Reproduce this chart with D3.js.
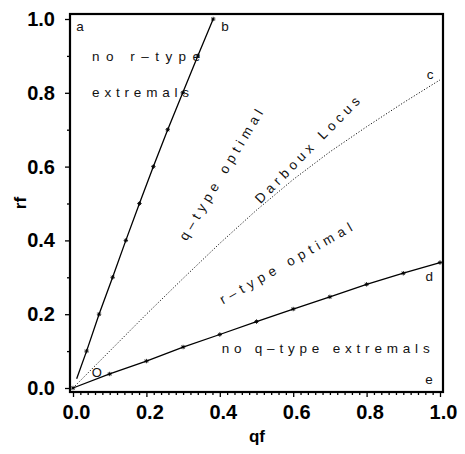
<!DOCTYPE html>
<html><head><meta charset="utf-8">
<script src="https://cdn.jsdelivr.net/npm/d3@7"></script>
<style>
html,body{margin:0;padding:0;background:#fff;}
svg{display:block;}
</style></head>
<body>
<svg id="chart" width="465" height="454"></svg>
<script>
// ---- data ----
const xTicks = [0, 0.2, 0.4, 0.6, 0.8, 1.0];
const yTicks = [0, 0.2, 0.4, 0.6, 0.8, 1.0];
const xTickLabels = ["0.0", "0.2", "0.4", "0.6", "0.8", "1.0"];
const yTickLabels = ["0.0", "0.2", "0.4", "0.6", "0.8", "1.0"];

// q-type boundary (O-b)
const qTypeQ = [0.010, 0.037, 0.071, 0.108, 0.144, 0.181, 0.219, 0.258, 0.299, 0.340, 0.382];
const qTypeR = [0.025, 0.1, 0.2, 0.3, 0.4, 0.5, 0.6, 0.7, 0.8, 0.9, 1.0];
// r-type boundary (O-d)
const rTypeQ = [0, 0.1, 0.2, 0.3, 0.4, 0.5, 0.6, 0.7, 0.8, 0.9, 1.0];
const rTypeR = [0, 0.038, 0.073, 0.111, 0.145, 0.180, 0.214, 0.247, 0.281, 0.311, 0.340];
// Darboux locus (O-c)
const darbQ = [0, 0.1, 0.2, 0.3, 0.4, 0.5, 0.6, 0.7, 0.8, 0.9, 1.0];
const darbR = [0, 0.1, 0.2, 0.297, 0.392, 0.482, 0.565, 0.640, 0.708, 0.773, 0.835];

// ---- layout ----
const svg = d3.select("#chart");
const x = d3.scaleLinear().domain([0, 1]).range([73, 440]);
const y = d3.scaleLinear().domain([0, 1]).range([388, 19]);
const frame = {left: 70, right: 443, top: 14, bottom: 392};

const g = svg.append("g");

// axes
const xMinor = d3.range(0, 1.0001, 0.02).filter(v => Math.abs(Math.round(v*5) - v*5) > 1e-6);
const yMinor = [0.1, 0.3, 0.5, 0.7, 0.9];

const xAxis = d3.axisBottom(x).tickValues(xTicks).tickSize(5).tickPadding(8)
  .tickFormat((d, i) => xTickLabels[i]);
const xAxisG = g.append("g").attr("transform", `translate(0,${frame.bottom})`).call(xAxis);
xAxisG.select(".domain").remove();
xAxisG.selectAll("text").attr("dx", 3);
const xMinorG = g.append("g").attr("transform", `translate(0,${frame.bottom})`)
  .call(d3.axisBottom(x).tickValues(xMinor).tickSize(3).tickFormat(""));
xMinorG.select(".domain").remove();

const yAxis = d3.axisLeft(y).tickValues(yTicks).tickSize(5).tickPadding(10)
  .tickFormat((d, i) => yTickLabels[i]);
const yAxisG = g.append("g").attr("transform", `translate(${frame.left},0)`).call(yAxis);
yAxisG.select(".domain").remove();
const yMinorG = g.append("g").attr("transform", `translate(${frame.left},0)`)
  .call(d3.axisLeft(y).tickValues(yMinor).tickSize(3).tickFormat(""));
yMinorG.select(".domain").remove();

g.selectAll(".tick line").attr("stroke", "#000").attr("stroke-width", 1.3);
g.selectAll(".tick text")
  .attr("font-family", "'Liberation Sans', Arial, sans-serif")
  .attr("font-weight", "bold").attr("font-size", 20).attr("fill", "#000");

// frame
g.append("rect").attr("x", frame.left).attr("y", frame.top)
  .attr("width", frame.right - frame.left).attr("height", frame.bottom - frame.top)
  .attr("fill", "none").attr("stroke", "#000").attr("stroke-width", 2.2);

// axis titles
g.append("text").attr("x", 257).attr("y", 442).attr("text-anchor", "middle")
  .attr("font-family", "'Liberation Sans', Arial, sans-serif").attr("font-weight", "bold")
  .attr("font-size", 17).text("qf");
g.append("text").attr("transform", "translate(26,203) rotate(-90)").attr("text-anchor", "middle")
  .attr("font-family", "'Liberation Sans', Arial, sans-serif").attr("font-weight", "bold")
  .attr("font-size", 17).text("rf");

// lines
const line = d3.line().x(d => x(d[0])).y(d => y(d[1]));
const qTypePts = qTypeQ.map((q, i) => [q, qTypeR[i]]);
const rTypePts = rTypeQ.map((q, i) => [q, rTypeR[i]]);
const darbPts = darbQ.map((q, i) => [q, darbR[i]]);

g.append("path").attr("d", line(darbPts)).attr("fill", "none").attr("stroke", "#000")
  .attr("stroke-width", 0.9).attr("stroke-dasharray", "1.2,1.8");
g.append("path").attr("d", line(qTypePts)).attr("fill", "none").attr("stroke", "#000").attr("stroke-width", 1.3);
g.append("path").attr("d", line(rTypePts)).attr("fill", "none").attr("stroke", "#000").attr("stroke-width", 1.3);

// asterisk markers
function star(sel, pts) {
  const s = 2.2;
  sel.selectAll(null).data(pts).enter().append("path")
    .attr("transform", d => `translate(${x(d[0])},${y(d[1])})`)
    .attr("d", `M${-s},0H${s}M0,${-s}V${s}M${-s*0.7},${-s*0.7}L${s*0.7},${s*0.7}M${-s*0.7},${s*0.7}L${s*0.7},${-s*0.7}`)
    .attr("stroke", "#000").attr("stroke-width", 0.9).attr("fill", "none");
}
star(g.append("g"), qTypePts.slice(1));
star(g.append("g"), rTypePts);

// annotations (data coordinates)
const font = "'Liberation Sans', Arial, sans-serif";
function label(q, r, txt, opts = {}) {
  const t = g.append("text")
    .attr("transform", `translate(${x(q)},${y(r)}) rotate(${opts.angle || 0})`)
    .attr("font-family", font).attr("font-size", opts.size || 13.5).attr("fill", "#111")
    .attr("text-anchor", opts.anchor || "start").text(txt);
  if (opts.len) t.attr("textLength", opts.len).attr("lengthAdjust", "spacing");
  return t;
}
label(0.019, 0.967, "a", {anchor: "middle"});
label(0.414, 0.967, "b", {anchor: "middle"});
label(0.973, 0.837, "c", {anchor: "middle"});
label(0.971, 0.290, "d", {anchor: "middle"});
label(0.970, 0.011, "e", {anchor: "middle"});
label(0.065, 0.030, "O", {anchor: "middle", size: 13});
label(0.052, 0.886, "no r\u2013type", {len: 108});
label(0.052, 0.789, "extremals", {len: 97});
label(0.405, 0.095, "no q\u2013type extremals", {len: 208});
label(0.309, 0.397, "q\u2013type optimal", {angle: -59, len: 150});
label(0.511, 0.498, "Darboux Locus", {angle: -45.5, len: 143});
label(0.409, 0.226, "r\u2013type optimal", {angle: -29.7, len: 150});
</script>
</body></html>
